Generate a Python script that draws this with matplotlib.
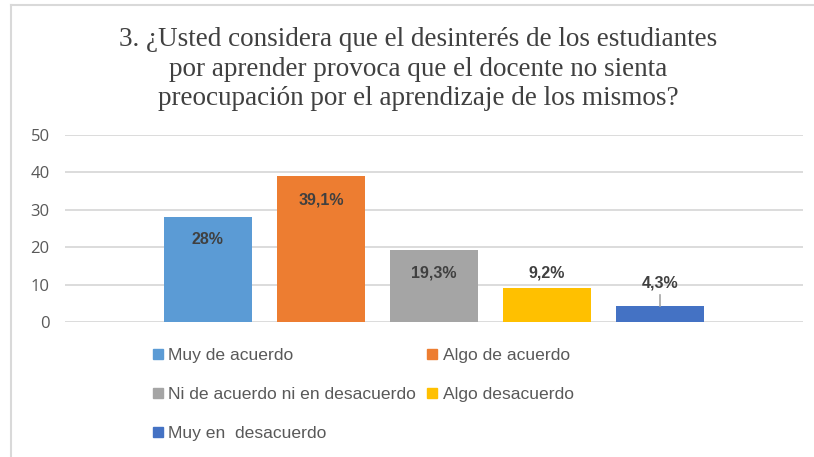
import matplotlib.pyplot as plt
from matplotlib.lines import Line2D

# survey answers for question 3
categories = ["Muy de acuerdo", "Algo de acuerdo", "Ni de acuerdo ni en desacuerdo",
              "Algo desacuerdo", "Muy en  desacuerdo"]
values = [28, 39.1, 19.3, 9.2, 4.3]
labels = ["28%", "39,1%", "19,3%", "9,2%", "4,3%"]
colors = ["#5B9BD5", "#ED7D31", "#A5A5A5", "#FFC000", "#4472C4"]
yticks = [0, 10, 20, 30, 40, 50]

title = ("3. ¿Usted considera que el desinterés de los estudiantes\n"
         "por aprender provoca que el docente no sienta\n"
         "preocupación por el aprendizaje de los mismos?")

fig = plt.figure(figsize=(8.14, 4.57), dpi=100)
ax = fig.add_axes([65 / 814, 135 / 457, 738 / 814, 187 / 457])

x = list(range(len(values)))
bars = ax.bar(x, values, width=0.78, color=colors, zorder=3)

ax.set_ylim(0, 50)
ax.set_xlim(-1.263, 5.263)
ax.set_yticks(yticks)
ax.set_xticks([])
ax.tick_params(axis="y", length=0, pad=11, labelsize=12, labelcolor="#595959")
for t in ax.get_yticklabels():
    t.set_family(["Open Sans", "DejaVu Sans"])
ax.grid(axis="y", color="#D9D9D9", linewidth=1.3, zorder=0)
for s in ax.spines.values():
    s.set_visible(False)

# data labels (inside for the big bars, above for the small ones)
offsets = [-6.0, -6.5, -6.2, 4.0, 6.1]
for xi, v, lab, off in zip(x, values, labels, offsets):
    ax.text(xi, v + off, lab, ha="center", va="center", fontsize=11.5,
            fontweight="bold", color="#404040",
            family="Liberation Sans", zorder=4)
# leader line for last label
ax.plot([4, 4], [values[4], values[4] + 2.9], color="#A6A6A6", lw=1.2, zorder=4)

fig.text(418 / 814, 1 - 69 / 457, title, ha="center", va="center",
         fontsize=19.5, color="#404040", family="Liberation Serif",
         linespacing=1.24)

# legend, row-major order like the original
order = [0, 2, 4, 1, 3]
handles = [Line2D([], [], marker="s", linestyle="", markersize=7,
                  markerfacecolor=colors[i], markeredgecolor=colors[i]) for i in order]
leg = fig.legend(handles, [categories[i] for i in order], loc="upper left",
                 bbox_to_anchor=(137 / 814, 1 - 332 / 457), ncol=2,
                 frameon=False, handlelength=0.6, handletextpad=0.3,
                 columnspacing=0.6, labelspacing=1.35,
                 prop={"family": "Liberation Sans", "size": 12.6})
for t in leg.get_texts():
    t.set_color("#595959")

# chart frame (top and left edges visible)
fig.add_artist(Line2D([11 / 814, 1], [1 - 5 / 457, 1 - 5 / 457],
                      transform=fig.transFigure, color="#D9D9D9", lw=1.5))
fig.add_artist(Line2D([11 / 814, 11 / 814], [0, 1 - 5 / 457],
                      transform=fig.transFigure, color="#D9D9D9", lw=1.5))

fig.savefig("out.png", dpi=100)
